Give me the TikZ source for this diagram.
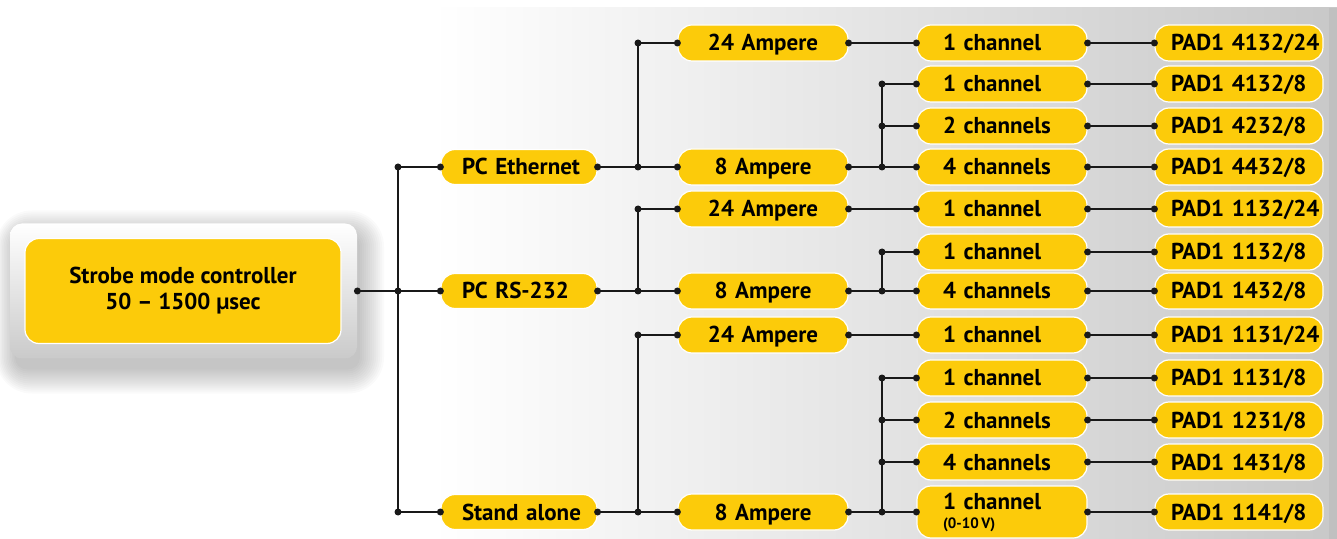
\documentclass[tikz,border=0pt]{standalone}
\usepackage{fontspec}
\setmainfont{PT Sans}
\definecolor{ylw}{RGB}{252,203,10}
\definecolor{lnc}{RGB}{25,25,25}
\definecolor{bgr}{RGB}{200,200,200}
\definecolor{bgedge}{RGB}{192,192,192}
\definecolor{boxbot}{RGB}{202,202,202}
\newcommand\ia{\hspace*{10.5pt}}
\newcommand\ib{\hspace*{13pt}}
\newcommand\ic{\hspace*{8pt}}
\begin{document}
\begin{tikzpicture}[x=0.5pt,y=-0.5pt,
  box/.style={fill=ylw, draw=white, line width=0.6pt, rounded corners=7pt,
    font=\bfseries\fontsize{11.5}{13}\selectfont, inner sep=0pt, text=black},
  flat/.style={text height=8pt, text depth=0pt},
  lone/.style={box, flat, minimum width=78pt, minimum height=17.5pt, text width=78pt, align=left},
  ltwo/.style={box, flat, minimum width=85pt, minimum height=18pt, text width=85pt, align=center},
  lthree/.style={box, flat, minimum width=85pt, minimum height=18pt, text width=85pt, align=left},
  lfour/.style={box, flat, minimum width=84pt, minimum height=18pt, text width=84pt, align=left},
  wire/.style={draw=lnc, line width=0.85pt},
  dotc/.style={fill=lnc}
]
\useasboundingbox (0,0) rectangle (1337,539);
% background panel
\shade[left color=white, right color=bgr] (432,8) rectangle (1337,539);
\fill[bgedge] (1329,8) rectangle (1337,539);

% soft shadow of the controller box
\foreach \k in {0,2,...,24}
  \fill[black, opacity=0.02, rounded corners=6pt+0.5pt*\k]
    (15-0.8*\k,234.5-\k) rectangle (360+\k,369.5+\k);

% controller
\node[top color=white, bottom color=boxbot, rounded corners=6pt,
      minimum width=173.5pt, minimum height=67.5pt, inner sep=0pt] (ctrl) at (183.5,291) {};
\node[box, minimum width=158pt, minimum height=52.5pt, align=center] (main) at (183,291)
  {Strobe mode controller\\50 – 1500 µsec};

% level 1
\node[lone] (Eth) at (519,167) {\ia PC Ethernet};
\node[lone] (RS)  at (519,291) {\ia PC RS-232};
\node[lone] (SA)  at (519,512) {\ia Stand alone};

% level 2
\node[ltwo] (E24) at (763,43)  {24 Ampere};
\node[ltwo] (E8)  at (763,167) {8 Ampere};
\node[ltwo] (R24) at (763,209) {24 Ampere};
\node[ltwo] (R8)  at (763,291) {8 Ampere};
\node[ltwo] (S24) at (763,335) {24 Ampere};
\node[ltwo] (S8)  at (763,512) {8 Ampere};

% level 3
\node[lthree] (c1)  at (1002,43)  {\ib 1 channel};
\node[lthree] (c2)  at (1002,84)  {\ib 1 channel};
\node[lthree] (c3)  at (1002,126) {\ib 2 channels};
\node[lthree] (c4)  at (1002,167) {\ib 4 channels};
\node[lthree] (c5)  at (1002,209) {\ib 1 channel};
\node[lthree] (c6)  at (1002,252) {\ib 1 channel};
\node[lthree] (c7)  at (1002,291) {\ib 4 channels};
\node[lthree] (c8)  at (1002,335) {\ib 1 channel};
\node[lthree] (c9)  at (1002,378) {\ib 1 channel};
\node[lthree] (c10) at (1002,420) {\ib 2 channels};
\node[lthree] (c11) at (1002,462) {\ib 4 channels};
\node[lthree, text height=, text depth=, minimum height=26pt] (c12) at (1002,512)
  {\ib 1 channel\\[-3.5pt]\ib{\fontsize{7.5}{8.5}\selectfont (0-10\,V)}};

% level 4
\node[lfour] (p1)  at (1239,43)  {\ic PAD1 4132/24};
\node[lfour] (p2)  at (1239,84)  {\ic PAD1 4132/8};
\node[lfour] (p3)  at (1239,126) {\ic PAD1 4232/8};
\node[lfour] (p4)  at (1239,167) {\ic PAD1 4432/8};
\node[lfour] (p5)  at (1239,209) {\ic PAD1 1132/24};
\node[lfour] (p6)  at (1239,252) {\ic PAD1 1132/8};
\node[lfour] (p7)  at (1239,291) {\ic PAD1 1432/8};
\node[lfour] (p8)  at (1239,335) {\ic PAD1 1131/24};
\node[lfour] (p9)  at (1239,378) {\ic PAD1 1131/8};
\node[lfour] (p10) at (1239,420) {\ic PAD1 1231/8};
\node[lfour] (p11) at (1239,462) {\ic PAD1 1431/8};
\node[lfour] (p12) at (1239,512) {\ic PAD1 1141/8};

% junction columns
\coordinate (ja) at (398,291);
\coordinate (jb) at (638,0);
\coordinate (jc) at (882,0);

% wires: controller to level 1
\draw[wire] (ctrl.east) -- (RS.west);
\draw[wire] (Eth.west) -- (Eth.west -| ja) -- (SA.west -| ja) -- (SA.west);
\foreach \p in {ctrl.east, ja, {Eth.west -| ja}, {SA.west -| ja}}
  \fill[dotc] (\p) circle[radius=1.75pt];

% level 1 to level 2
\foreach \a/\t/\b in {Eth/E24/E8, RS/R24/R8, SA/S24/S8}{
  \draw[wire] (\a.east) -- (\b.west);
  \draw[wire] (\t.west) -- (\t.west -| jb) -- (\b.west -| jb);
  \fill[dotc] (\t.west -| jb) circle[radius=1.75pt];
  \fill[dotc] (\b.west -| jb) circle[radius=1.75pt];
}

% level 2 to level 3
\draw[wire] (E24.east) -- (c1.west);
\draw[wire] (R24.east) -- (c5.west);
\draw[wire] (S24.east) -- (c8.west);
\draw[wire] (E8.east) -- (c4.west);
\draw[wire] (c2.west) -- (c2.west -| jc) -- (c4.west -| jc);
\draw[wire] (c3.west -| jc) -- (c3.west);
\draw[wire] (R8.east) -- (c7.west);
\draw[wire] (c6.west) -- (c6.west -| jc) -- (c7.west -| jc);
\draw[wire] (S8.east) -- (c12.west);
\draw[wire] (c9.west) -- (c9.west -| jc) -- (c12.west -| jc);
\draw[wire] (c10.west -| jc) -- (c10.west);
\draw[wire] (c11.west -| jc) -- (c11.west);
\foreach \n in {c2,c3,c4,c6,c7,c9,c10,c11,c12}
  \fill[dotc] (\n.west -| jc) circle[radius=1.75pt];

% level 3 to level 4
\foreach \i in {1,...,12}
  \draw[wire] (c\i.east) -- (p\i.west);

% end dots
\foreach \n in {Eth,RS,SA,E24,E8,R24,R8,S24,S8,c1,c2,c3,c4,c5,c6,c7,c8,c9,c10,c11,c12}{
  \fill[dotc] (\n.west) circle[radius=1.75pt];
  \fill[dotc] (\n.east) circle[radius=1.75pt];
}
\foreach \i in {1,...,12}
  \fill[dotc] (p\i.west) circle[radius=1.75pt];
\end{tikzpicture}
\end{document}
